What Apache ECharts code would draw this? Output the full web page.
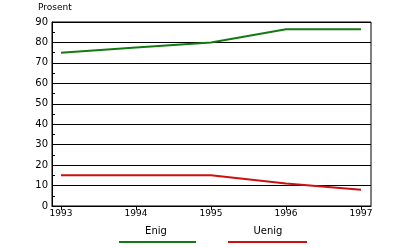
<!DOCTYPE html>
<html><head><meta charset="utf-8">
<script src="https://cdn.jsdelivr.net/npm/echarts@6/dist/echarts.min.js"></script>
<style>html,body{margin:0;padding:0;background:#fff}#c{width:400px;height:248px}</style>
</head><body><div id="c"></div>
<script>
var years = [1993, 1994, 1995, 1996, 1997];
var enig = [75, 77.5, 80, 86.5, 86.5];
var uenig = [15, 15, 15, 11, 8];
var seriesNames = ['Enig', 'Uenig'];
var yTicks = [0, 10, 20, 30, 40, 50, 60, 70, 80, 90];
var yTitle = 'Prosent';
var colors = ['#137a13', '#cc1111'];

function pairs(v) { return years.map(function (y, i) { return [y, v[i]]; }); }
var chart = echarts.init(document.getElementById('c'), null, { renderer: 'canvas' });
var font = 'DejaVu Sans';
chart.setOption({
  animation: false,
  grid: { left: 52, right: 29, top: 22, bottom: 42, show: true, borderColor: '#000', borderWidth: 1, backgroundColor: 'transparent' },
  xAxis: {
    type: 'value', min: 1992.88, max: 1997.133,
    axisLine: { lineStyle: { color: '#000', width: 1 } },
    axisTick: { show: true, length: 4, lineStyle: { color: '#000' }, customValues: years },
    axisLabel: { color: '#000', fontFamily: font, fontSize: 9, margin: 3, customValues: years, formatter: function (v) { return String(v); } },
    splitLine: { show: false }
  },
  yAxis: {
    type: 'value', min: 0, max: 90, interval: 10,
    axisLine: { show: true, lineStyle: { color: '#000', width: 1 } },
    axisTick: { show: false, inside: true },
    minorTick: { show: true, splitNumber: 2, length: 3, lineStyle: { color: '#000' } },
    axisLabel: { color: '#000', fontFamily: font, fontSize: 10, margin: 4, customValues: yTicks },
    splitLine: { show: true, lineStyle: { color: '#000', width: 1 } }
  },
  graphic: [
    { type: 'text', left: 38, top: 3, style: { text: yTitle, font: '9px ' + font, fill: '#000' } },
    { type: 'text', x: 156, y: 231, style: { text: seriesNames[0], font: '10px ' + font, fill: '#000', align: 'center', verticalAlign: 'middle' } },
    { type: 'text', x: 268, y: 231, style: { text: seriesNames[1], font: '10px ' + font, fill: '#000', align: 'center', verticalAlign: 'middle' } },
    { type: 'line', shape: { x1: 119, y1: 242, x2: 196, y2: 242 }, style: { stroke: colors[0], lineWidth: 2 } },
    { type: 'line', shape: { x1: 228, y1: 242, x2: 307, y2: 242 }, style: { stroke: colors[1], lineWidth: 2 } }
  ],
  series: [
    { name: seriesNames[0], type: 'line', data: pairs(enig), symbol: 'none', lineStyle: { color: colors[0], width: 2 } },
    { name: seriesNames[1], type: 'line', data: pairs(uenig), symbol: 'none', lineStyle: { color: colors[1], width: 2 } }
  ]
});
</script></body></html>
